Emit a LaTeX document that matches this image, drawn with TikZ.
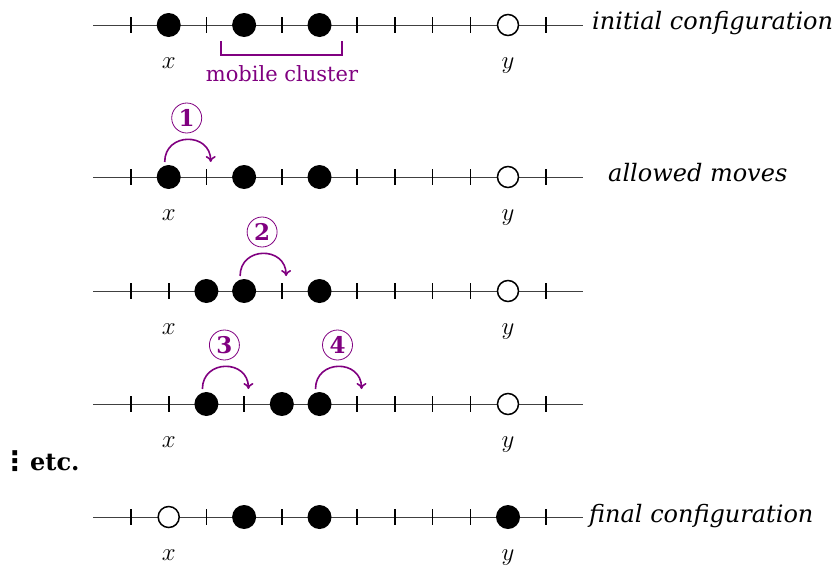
\documentclass[tikz,border=0pt]{standalone}
\usepackage{fontspec}
\setmainfont{DejaVu Serif}
\newfontfamily\symfont{DejaVu Sans}
\usetikzlibrary{arrows.meta,calc}
\definecolor{mypurple}{RGB}{128,0,128}
\begin{document}
\begin{tikzpicture}[x=1pt,y=-1pt,
  font=\fontsize{21}{25}\selectfont,
  axis/.style={line width=1pt, black!75},
  tk/.style={line width=1.6pt},
  dot/.style={circle, fill=black, inner sep=0pt, minimum size=24pt},
  hole/.style={circle, draw=black, line width=1.5pt, fill=white, inner sep=0pt, minimum size=21pt},
  lab/.style={anchor=base, inner sep=0pt, font=\fontsize{24}{28}\selectfont},
  mv/.style={mypurple, line width=1.6pt, -{To[length=6pt,width=10pt]}},
  num/.style={circle, draw=mypurple, line width=0.8pt, text=mypurple, inner sep=0pt, minimum size=30pt, font=\fontsize{23}{27}\selectfont\bfseries},
  captxt/.style={anchor=base west, inner sep=0pt, font=\fontsize{24}{28}\selectfont\itshape}
]
\useasboundingbox (0,0) rectangle (834,565);
\def\X#1{131+37.7*#1}
% generic row: #1 name, #2 y, #3 tick list, #4 filled list, #5 open index
\newcommand\confrow[5]{%
  \coordinate (#1a) at (93,#2);
  \coordinate (#1b) at (583,#2);
  \draw[axis] (#1a) -- (#1b);
  \foreach \k in {#3}{\draw[tk] ({\X{\k}},#2-8) -- ({\X{\k}},#2+8);}
  \foreach \k in {#4}{\node[dot] (#1d\k) at ({\X{\k}},#2) {};}
  \node[hole] (#1o) at ({\X{#5}},#2) {};
  \node[lab] (#1x) at ({\X{1}},#2+43) {$x$};
  \node[lab] (#1y) at ({\X{10}},#2+43) {$y$};
}
\confrow{ra}{25}{0,2,4,6,7,8,9,11}{1,3,5}{10}
\confrow{rb}{177}{0,2,4,6,7,8,9,11}{1,3,5}{10}
\confrow{rc}{291}{0,1,4,6,7,8,9,11}{2,3,5}{10}
\confrow{rd}{404}{0,1,3,6,7,8,9,11}{2,4,5}{10}
% final row
\coordinate (rea) at (93,517);
\coordinate (reb) at (583,517);
\draw[axis] (rea) -- (reb);
\foreach \k in {0,2,4,6,7,8,9,11}{\draw[tk] ({\X{\k}},509) -- ({\X{\k}},525);}
\node[hole] (reo) at ({\X{1}},517) {};
\foreach \k in {3,5,10}{\node[dot] (red\k) at ({\X{\k}},517) {};}
\node[lab] (rex) at ({\X{1}},560) {$x$};
\node[lab] (rey) at ({\X{10}},560) {$y$};

% mobile cluster bracket
\coordinate (bA) at (221,41);
\coordinate (bB) at (221,55);
\coordinate (bC) at (342,55);
\coordinate (bD) at (342,41);
\draw[mypurple, line width=1.6pt] (bA) -- (bB) -- (bC) -- (bD);
\node[anchor=base, inner sep=0pt, text=mypurple] (mc) at (282,81) {mobile cluster};

% captions
\node[captxt] (c1) at (592,29) {initial configuration};
\node[captxt] (c2) at (608,181) {allowed moves};
\node[captxt] (c3) at (589,522) {final configuration};

% etc
\node[anchor=base, inner sep=0pt, font=\fontsize{27}{31}\symfont\bfseries] (vd) at (15,470) {⋮};
\node[anchor=base west, inner sep=0pt, font=\fontsize{24}{28}\selectfont\bfseries] (etc) at (30,470) {etc.};

% moves
\newcommand\move[3]{% #1 dot node, #2 name, #3 number
  \coordinate (#2s) at ($(#1)+(-4,-15)$);
  \coordinate (#2e) at ($(#1)+(42,-15)$);
  \draw[mv] (#2s) .. controls +(0,-30) and +(0,-30) .. (#2e);
  \node[num] (#2n) at ($(#1)+(18,-59)$) {#3};
}
\move{rbd1}{mA}{1}
\move{rcd3}{mB}{2}
\move{rdd2}{mC}{3}
\move{rdd5}{mD}{4}
\end{tikzpicture}
\end{document}
